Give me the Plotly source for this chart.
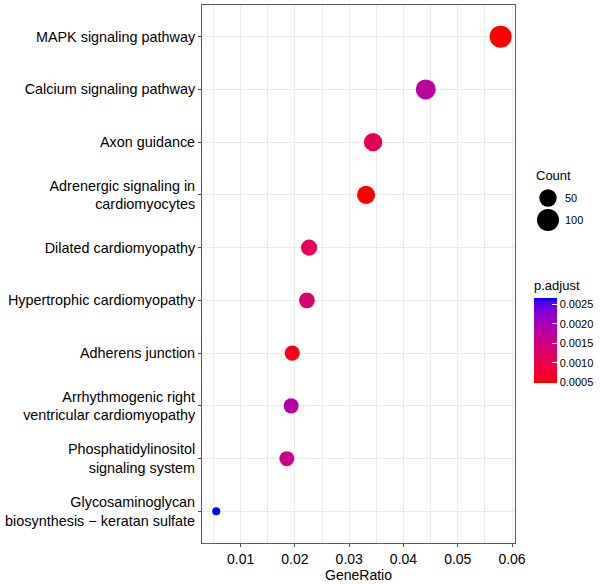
import plotly.graph_objects as go

# ---- data ----
pathways = [
    "MAPK signaling pathway",
    "Calcium signaling pathway",
    "Axon guidance",
    "Adrenergic signaling in<br>cardiomyocytes",
    "Dilated cardiomyopathy",
    "Hypertrophic cardiomyopathy",
    "Adherens junction",
    "Arrhythmogenic right<br>ventricular cardiomyopathy",
    "Phosphatidylinositol<br>signaling system",
    "Glycosaminoglycan<br>biosynthesis \u2212 keratan sulfate",
]
gene_ratio = [0.0579, 0.0441, 0.0344, 0.0331, 0.0226, 0.0222, 0.0195, 0.0193, 0.0185, 0.0055]
counts = [100, 76, 59, 57, 40, 38, 34, 33, 32, 10]
p_adjust = [0.00050, 0.00180, 0.00110, 0.00050, 0.00110, 0.00130, 0.00060, 0.00185, 0.00160, 0.00268]
size_legend_values = [50, 100]
cbar_ticks = [0.0005, 0.0010, 0.0015, 0.0020, 0.0025]
x_ticks = [0.01, 0.02, 0.03, 0.04, 0.05, 0.06]

# ---- style helpers ----
FONT = "Liberation Sans, Arial, sans-serif"
L, R, T, B = 202, 85, 5, 41
W, H = 600, 584
PW, PH = W - L - R, H - T - B

cmin, cmax = 0.00049, 0.00268
cnt_min, cnt_max = min(counts), max(counts)
smin, smax = 8.0, 22.0


def size_of(c):
    t = (c - cnt_min) / (cnt_max - cnt_min)
    return smin + (smax - smin) * max(t, 0) ** 0.5


# Lab interpolation red -> blue (like ggplot's gradient)
def srgb_to_lab(rgb):
    def lin(c):
        c = c / 255
        return c / 12.92 if c <= 0.04045 else ((c + 0.055) / 1.055) ** 2.4
    r, g, b = (lin(v) for v in rgb)
    X = 0.4124 * r + 0.3576 * g + 0.1805 * b
    Y = 0.2126 * r + 0.7152 * g + 0.0722 * b
    Z = 0.0193 * r + 0.1192 * g + 0.9505 * b
    X, Y, Z = X / 0.95047, Y / 1.0, Z / 1.08883
    def f(t):
        return t ** (1 / 3) if t > 0.008856 else 7.787 * t + 16 / 116
    fx, fy, fz = f(X), f(Y), f(Z)
    return (116 * fy - 16, 500 * (fx - fy), 200 * (fy - fz))


def lab_to_srgb(lab):
    Lv, a, b = lab
    fy = (Lv + 16) / 116
    fx = fy + a / 500
    fz = fy - b / 200
    def finv(t):
        return t ** 3 if t ** 3 > 0.008856 else (t - 16 / 116) / 7.787
    X, Y, Z = 0.95047 * finv(fx), finv(fy), 1.08883 * finv(fz)
    r = 3.2406 * X - 1.5372 * Y - 0.4986 * Z
    g = -0.9689 * X + 1.8758 * Y + 0.0415 * Z
    bb = 0.0557 * X - 0.2040 * Y + 1.0570 * Z
    def gam(c):
        c = max(0.0, min(1.0, c))
        return 12.92 * c if c <= 0.0031308 else 1.055 * c ** (1 / 2.4) - 0.055
    return tuple(int(round(gam(c) * 255)) for c in (r, g, bb))


lab_r = srgb_to_lab((255, 0, 0))
lab_b = srgb_to_lab((0, 0, 255))
colorscale = []
n = 20
for i in range(n + 1):
    t = i / n
    lab = tuple(lab_r[k] + (lab_b[k] - lab_r[k]) * t for k in range(3))
    rgb = lab_to_srgb(lab)
    colorscale.append([t, "rgb(%d,%d,%d)" % rgb])

fig = go.Figure()
fig.add_trace(go.Scatter(
    x=gene_ratio,
    y=pathways,
    mode="markers",
    marker=dict(
        size=[size_of(c) for c in counts],
        color=p_adjust,
        colorscale=colorscale,
        cmin=cmin, cmax=cmax,
        line=dict(width=0),
        opacity=1,
        colorbar=dict(
            title=dict(text="p.adjust", side="top", font=dict(family=FONT, size=13, color="black")),
            thickness=23,
            lenmode="pixels", len=105,
            x=(534 - L) / PW, xanchor="left",
            y=(H - B - 330) / PH, yanchor="middle",
            tickvals=cbar_ticks,
            ticktext=["%.4f" % v for v in cbar_ticks],
            ticks="inside", ticklen=5, tickcolor="white", tickwidth=1,
            ticklabelposition="outside",
            tickfont=dict(family=FONT, size=11, color="black"),
            outlinewidth=0,
            xpad=0, ypad=0,
        ),
    ),
    showlegend=False,
    hoverinfo="x+y",
))

# Size legend (drawn manually to allow large circles)
shapes = []
annotations = []
legend_x_px = 548
legend_y_px = [198, 220]
for v, ypx in zip(size_legend_values, legend_y_px):
    d = size_of(v)
    shapes.append(dict(
        type="circle", xref="paper", yref="paper",
        xsizemode="pixel", ysizemode="pixel",
        xanchor=(legend_x_px - L) / PW, yanchor=(H - B - ypx) / PH,
        x0=-d / 2, x1=d / 2, y0=-d / 2, y1=d / 2,
        fillcolor="black", line=dict(width=0),
    ))
    annotations.append(dict(
        text=str(v), xref="paper", yref="paper",
        x=(563 - L) / PW, y=(H - B - ypx) / PH,
        xanchor="left", yanchor="middle", showarrow=False,
        font=dict(family=FONT, size=11, color="black"),
    ))
annotations.append(dict(
    text="Count", xref="paper", yref="paper",
    x=(534 - L) / PW, y=(H - B - 175) / PH,
    xanchor="left", yanchor="middle", showarrow=False,
    font=dict(family=FONT, size=13, color="black"),
))

fig.update_layout(
    width=W, height=H,
    margin=dict(l=L, r=R, t=T, b=B, autoexpand=False),
    paper_bgcolor="white", plot_bgcolor="white",
    font=dict(family=FONT, color="black"),
    shapes=shapes,
    annotations=annotations,
    xaxis=dict(
        automargin=False,
        range=[0.00287, 0.06055],
        tickvals=x_ticks,
        ticktext=["%.2f" % v for v in x_ticks],
        tickfont=dict(family=FONT, size=14, color="black"),
        ticks="outside", ticklen=3, tickcolor="#4d4d4d",
        showgrid=True, gridcolor="#ebebeb", gridwidth=1,
        minor=dict(tick0=0.005, dtick=0.01, showgrid=True, gridcolor="#ebebeb", gridwidth=0.6),
        showline=True, linecolor="#595959", linewidth=1, mirror=True,
        zeroline=False,
        title=dict(text="GeneRatio", font=dict(family=FONT, size=14, color="black"), standoff=0),
    ),
    yaxis=dict(
        automargin=False,
        type="category",
        categoryorder="array",
        categoryarray=pathways[::-1],
        range=[-0.6, len(pathways) - 0.4],
        tickfont=dict(family=FONT, size=14.4, color="black"),
        ticks="outside", ticklen=3, tickcolor="#4d4d4d",
        showgrid=True, gridcolor="#ebebeb", gridwidth=1,
        showline=True, linecolor="#595959", linewidth=1, mirror=True,
        zeroline=False,
    ),
)

fig.write_html("out.html", config={"displayModeBar": False},
               post_script="document.body.style.margin='0';")
